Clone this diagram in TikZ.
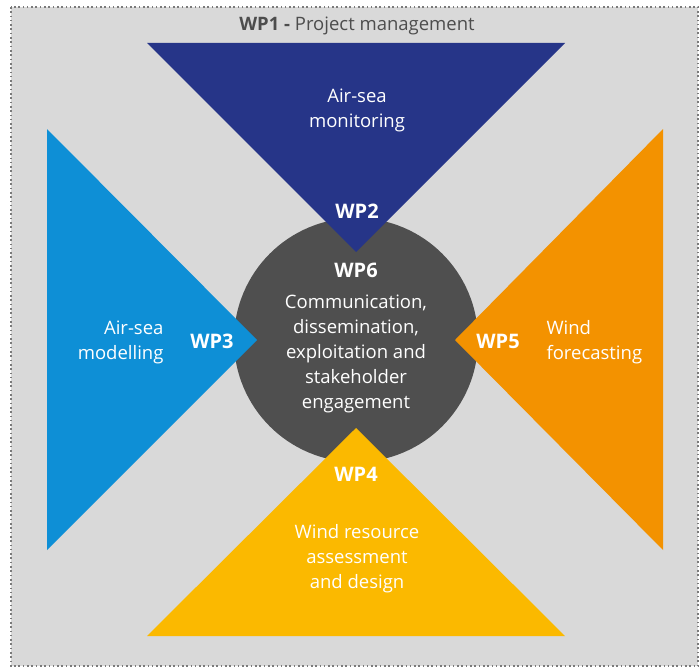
\documentclass[tikz,border=0pt]{standalone}
\usepackage{fontspec}
\setmainfont{Open Sans}

\definecolor{panelgray}{HTML}{D9D9D9}
\definecolor{dotgray}{HTML}{7A7A7A}
\definecolor{titlegray}{HTML}{4D4D4D}
\definecolor{hubgray}{HTML}{4F4F4F}
\definecolor{wptwo}{HTML}{263588}
\definecolor{wpthree}{HTML}{0E8FD6}
\definecolor{wpfour}{HTML}{FBB900}
\definecolor{wpfive}{HTML}{F39200}

\begin{document}
\begin{tikzpicture}[x=1pt,y=-1pt,
    wplabel/.style={text=white,font=\fontsize{20}{23}\selectfont\bfseries},
    wptext/.style={text=white,font=\fontsize{18.5}{25}\selectfont}]

  \useasboundingbox (0,0) rectangle (700,669);

  % panel of WP1
  \fill[panelgray] (11,7) rectangle (698,666);
  \draw[dotgray, line width=1.6pt, dash pattern=on 1.6pt off 2.7pt] (11,7) rectangle (698,666);
  \node[text=titlegray, font=\fontsize{18.5}{21}\selectfont] (wp1) at (357,26)
    {\textbf{WP1 -} Project management};

  % hub
  \node[circle, fill=hubgray, minimum size=244pt, inner sep=0pt] (hub) at (356,340) {};

  % the four triangles
  \fill[wptwo]   (147,43)  -- (565,43)  -- (356,252) -- cycle;
  \fill[wpthree] (47,129)  -- (47,550)  -- (257,340) -- cycle;
  \fill[wpfive]  (663,129) -- (663,550) -- (455,340) -- cycle;
  \fill[wpfour]  (147,636) -- (565,636) -- (356,428) -- cycle;

  % labels
  \node[wptext, align=center] (mon) at (357,110) {Air-sea\\monitoring};
  \node[wplabel] (wp2) at (357,211) {WP2};

  \node[wplabel] (wp6) at (356,270) {WP6};
  \node[wptext, align=center] (comm) at (356,354)
    {Communication,\\dissemination,\\exploitation and\\stakeholder\\engagement};

  \node[wptext, align=right, anchor=east] (mod) at (167,342) {Air-sea\\modelling};
  \node[wplabel] (wp3) at (212,341) {WP3};

  \node[wplabel] (wp5) at (498,341) {WP5};
  \node[wptext, align=left, anchor=west] (fc) at (543,342) {Wind\\forecasting};

  \node[wplabel] (wp4) at (356,474) {WP4};
  \node[wptext, align=center] (res) at (357,559) {Wind resource\\assessment\\and design};

\end{tikzpicture}
\end{document}
